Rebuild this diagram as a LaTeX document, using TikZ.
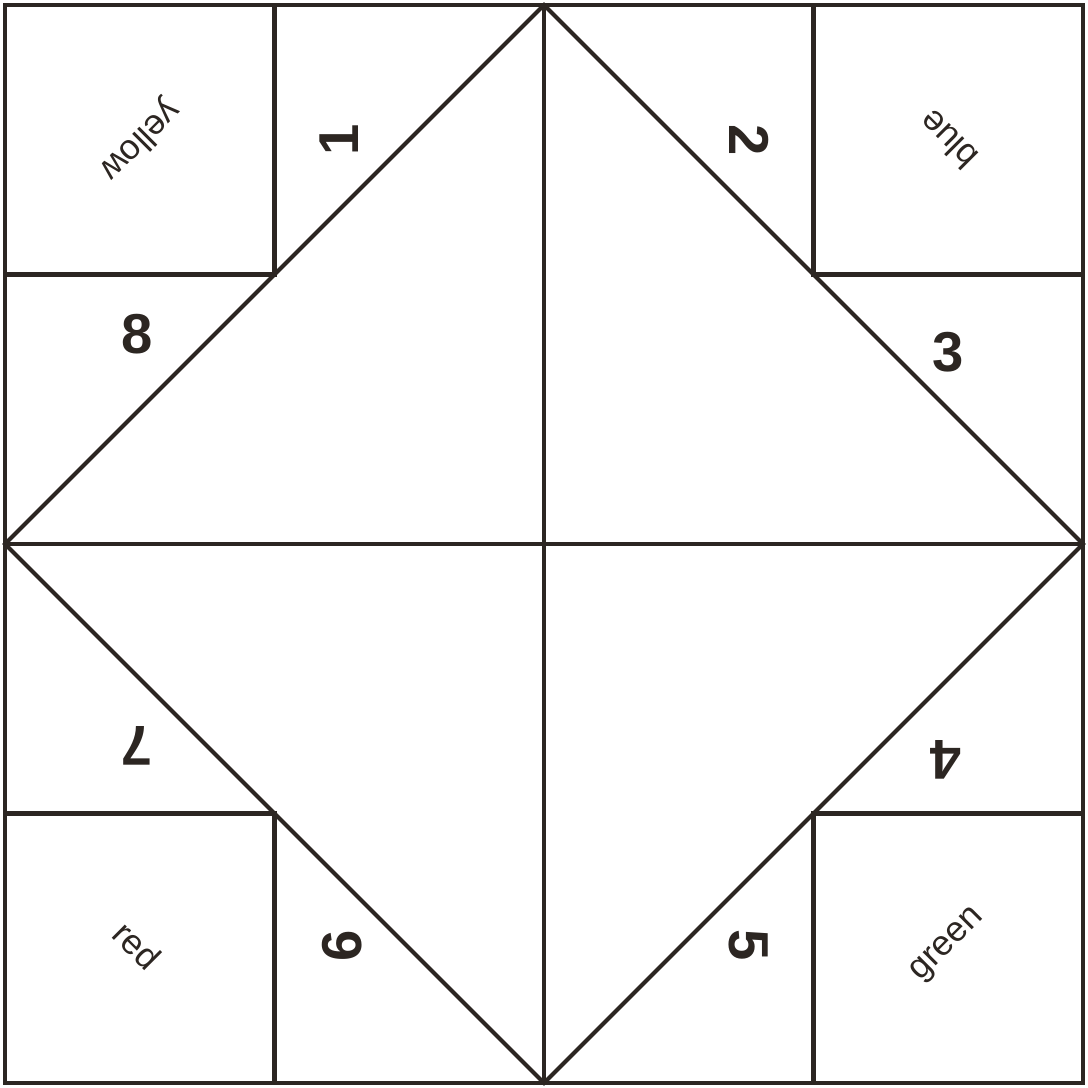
\documentclass[tikz,border=0pt]{standalone}
\usepackage{fontspec}
\setmainfont{Liberation Sans}
\usepackage{tikz}
\usetikzlibrary{calc}

\definecolor{inkline}{HTML}{2C2622}
\tikzset{
	foldline/.style={draw=inkline, line width=1.15pt, line cap=rect, line join=miter},
	numlab/.style={text=inkline, font=\fontsize{16}{16}\selectfont\bfseries, inner sep=0pt},
	colourlab/.style={text=inkline, font=\fontsize{10}{10}\selectfont, inner sep=0pt}
}

\begin{document}
\begin{tikzpicture}[x=2.695cm,y=2.695cm]
	\useasboundingbox (-0.05cm,-0.05cm) rectangle (10.83cm,10.83cm);
	
	%outer square and middle lines
	\draw[foldline] (0,0) rectangle (4,4);
	\draw[foldline] (2,0)--(2,4);	%vertical
	\draw[foldline] (0,2)--(4,2);	%horizontal
	
	%diamond
	\draw[foldline] (2,4)--(4,2)--(2,0)--(0,2)--cycle;
	
	%corner squares
	\draw[foldline] (1,4)--(1,3)--(0,3);	%NW
	\draw[foldline] (3,4)--(3,3)--(4,3);	%NE
	\draw[foldline] (0,1)--(1,1)--(1,0);	%SW
	\draw[foldline] (4,1)--(3,1)--(3,0);	%SE
	
	%colour captions
	\node[colourlab,rotate=-135] (yellow) at (0.5,3.5) {yellow};
	\node[colourlab,rotate=135] (blue) at (3.5,3.5) {blue};
	\node[colourlab,rotate=-45] (red) at (0.49,0.51) {red};
	\node[colourlab,rotate=45] (green) at (3.5,0.51) {green};
	
	%numbers
	\node[numlab,rotate=90] (n1) at (1.24,3.5) {1};
	\node[numlab,rotate=-90] (n2) at (2.76,3.5) {2};
	\node[numlab] (n3) at (3.5,2.71) {3};
	\node[numlab,rotate=180] (n4) at (3.49,1.2) {4};
	\node[numlab,rotate=-90] (n5) at (2.76,0.51) {5};
	\node[numlab,rotate=90] (n6) at (1.25,0.51) {6};
	\node[numlab,rotate=180] (n7) at (0.49,1.25) {7};
	\node[numlab] (n8) at (0.49,2.78) {8};
	
	%\draw[help lines] (0,0) grid (4,4);
\end{tikzpicture}
\end{document}
